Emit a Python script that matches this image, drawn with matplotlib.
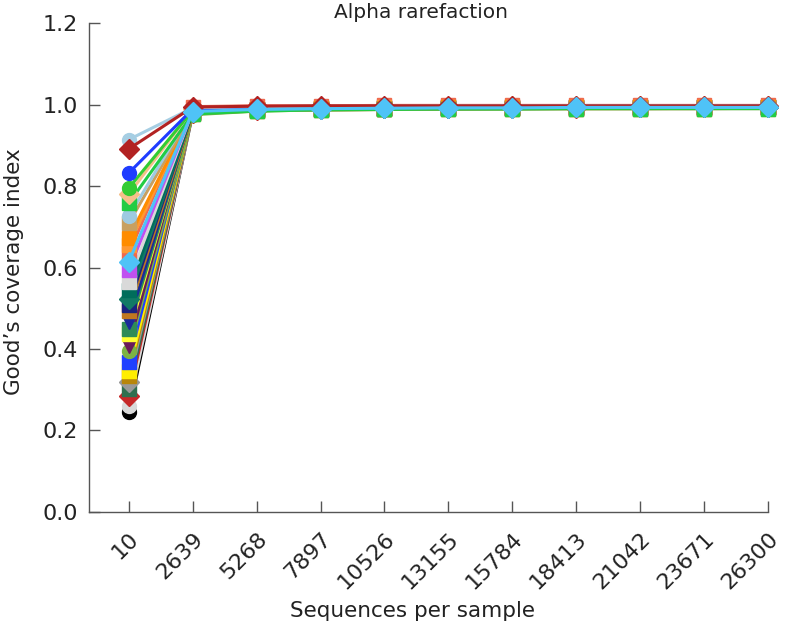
import matplotlib
matplotlib.use("Agg")
import matplotlib.pyplot as plt
import numpy as np

depths = ["10", "2639", "5268", "7897", "10526", "13155", "15784",
          "18413", "21042", "23671", "26300"]

# coverage per sample (one row per sample)
coverage = [
    [0.244, 0.978, 0.986, 0.989, 0.990, 0.991, 0.991, 0.992, 0.992, 0.992, 0.992],
    [0.260, 0.979, 0.987, 0.989, 0.990, 0.991, 0.992, 0.992, 0.992, 0.993, 0.993],
    [0.285, 0.980, 0.987, 0.990, 0.991, 0.991, 0.992, 0.992, 0.993, 0.993, 0.993],
    [0.301, 0.980, 0.986, 0.989, 0.990, 0.991, 0.991, 0.992, 0.992, 0.992, 0.993],
    [0.318, 0.981, 0.988, 0.990, 0.991, 0.992, 0.992, 0.993, 0.993, 0.993, 0.993],
    [0.333, 0.979, 0.986, 0.989, 0.990, 0.991, 0.991, 0.992, 0.992, 0.992, 0.992],
    [0.346, 0.981, 0.987, 0.990, 0.991, 0.992, 0.992, 0.992, 0.993, 0.993, 0.993],
    [0.368, 0.982, 0.988, 0.990, 0.991, 0.992, 0.992, 0.993, 0.993, 0.993, 0.994],
    [0.395, 0.975, 0.984, 0.987, 0.988, 0.989, 0.990, 0.990, 0.990, 0.991, 0.991],
    [0.408, 0.990, 0.994, 0.995, 0.996, 0.996, 0.997, 0.997, 0.997, 0.997, 0.997],
    [0.437, 0.982, 0.988, 0.990, 0.991, 0.992, 0.992, 0.993, 0.993, 0.993, 0.993],
    [0.449, 0.980, 0.987, 0.989, 0.990, 0.991, 0.992, 0.992, 0.992, 0.993, 0.993],
    [0.466, 0.983, 0.989, 0.991, 0.992, 0.993, 0.993, 0.993, 0.994, 0.994, 0.994],
    [0.492, 0.978, 0.985, 0.987, 0.988, 0.989, 0.990, 0.990, 0.990, 0.990, 0.991],
    [0.507, 0.984, 0.989, 0.991, 0.992, 0.993, 0.993, 0.994, 0.994, 0.994, 0.994],
    [0.523, 0.983, 0.989, 0.991, 0.992, 0.992, 0.993, 0.993, 0.993, 0.994, 0.994],
    [0.544, 0.982, 0.988, 0.990, 0.991, 0.992, 0.992, 0.993, 0.993, 0.993, 0.993],
    [0.565, 0.985, 0.990, 0.992, 0.993, 0.994, 0.994, 0.994, 0.995, 0.995, 0.995],
    [0.593, 0.984, 0.990, 0.992, 0.993, 0.993, 0.994, 0.994, 0.994, 0.995, 0.995],
    [0.635, 0.995, 0.997, 0.997, 0.998, 0.998, 0.998, 0.998, 0.998, 0.998, 0.998],
    [0.655, 0.985, 0.990, 0.992, 0.993, 0.994, 0.994, 0.994, 0.995, 0.995, 0.995],
    [0.672, 0.984, 0.989, 0.991, 0.992, 0.993, 0.993, 0.994, 0.994, 0.994, 0.994],
    [0.709, 0.980, 0.985, 0.987, 0.988, 0.989, 0.989, 0.990, 0.990, 0.990, 0.990],
    [0.726, 0.987, 0.992, 0.993, 0.994, 0.995, 0.995, 0.995, 0.996, 0.996, 0.996],
    [0.758, 0.977, 0.984, 0.987, 0.988, 0.989, 0.989, 0.990, 0.990, 0.990, 0.990],
    [0.780, 0.988, 0.992, 0.994, 0.995, 0.995, 0.996, 0.996, 0.996, 0.996, 0.996],
    [0.795, 0.986, 0.991, 0.993, 0.994, 0.994, 0.995, 0.995, 0.995, 0.995, 0.996],
    [0.832, 0.989, 0.993, 0.994, 0.995, 0.995, 0.996, 0.996, 0.996, 0.996, 0.997],
    [0.914, 0.992, 0.995, 0.996, 0.996, 0.997, 0.997, 0.997, 0.997, 0.997, 0.997],
    [0.891, 0.994, 0.996, 0.997, 0.997, 0.997, 0.997, 0.997, 0.997, 0.997, 0.997],
    [0.614, 0.983, 0.988, 0.990, 0.991, 0.992, 0.992, 0.993, 0.993, 0.993, 0.993],
]

colors = [
    "#000000", "#d9d9d9", "#c62828", "#2f6f4f", "#999999", "#b8860b",
    "#ffee00", "#2040ff", "#7cb342", "#6a1b5a", "#ffff33", "#2e8b57",
    "#1a2a9a", "#c07820", "#1a237e", "#117a65", "#006d5b", "#d9d9d9",
    "#c050f0", "#ef6a50", "#ff9933", "#ff8c00", "#c8a060", "#9ecae1",
    "#22cc44", "#f5c08a", "#33cc33", "#1f3cff", "#a6cee3", "#b22222",
    "#4fc3f7",
]
markers = [
    "o", "o", "D", "s", "D", "s", "s", "s", "o", "v", "s", "s",
    "v", "s", "s", "D", "s", "s", "s", "s", "s", "s", "s", "o",
    "s", "D", "o", "o", "o", "D", "D",
]

fig = plt.figure(figsize=(7.86, 6.25), dpi=100)
ax = fig.add_axes([0.113, 0.181, 0.864, 0.782])

x = np.arange(len(depths))
for vals, c, m in zip(coverage, colors, markers):
    ax.plot(x, vals, color=c, marker=m, markersize=10, linewidth=2.2,
            clip_on=False)

ax.set_xlim(-0.625, len(depths) - 1)
ax.set_ylim(0, 1.2)
yt = np.arange(0, 1.21, 0.2)
ax.set_yticks(yt)
ax.set_yticklabels([f"{v:.1f}" for v in yt])
ax.set_xticks(x)
ax.set_xticklabels(depths, rotation=45, ha="right", va="top",
                   rotation_mode="anchor")

for s in ["top", "right"]:
    ax.spines[s].set_visible(False)
for s in ["left", "bottom"]:
    ax.spines[s].set_color("#555555")
    ax.spines[s].set_linewidth(1.0)
ax.tick_params(direction="in", length=8, width=1, color="#555555",
               labelsize=16, labelcolor="#222222")
ax.tick_params(axis="y", pad=8)
ax.tick_params(axis="x", pad=12)

fig.text(413 / 786, 1 - 611 / 625, "Sequences per sample", ha="center",
         va="center", fontsize=15.5, color="#222222")
fig.text(14 / 786, 1 - 272 / 625, "Good\u2019s coverage index", ha="center",
         va="center", rotation=90, fontsize=15.5, color="#222222")
fig.text(421 / 786, 1 - 13 / 625, "Alpha rarefaction", ha="center",
         va="center", fontsize=14.5, color="#222222")

fig.savefig("out.png", dpi=100)
